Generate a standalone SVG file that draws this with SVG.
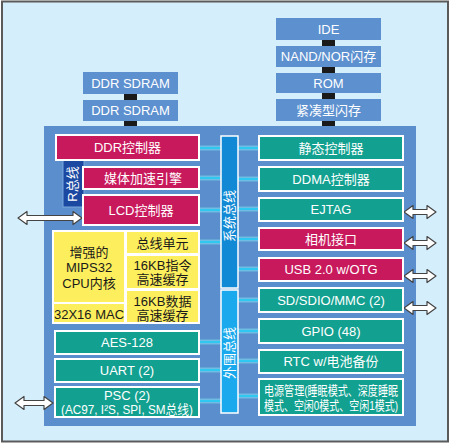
<svg xmlns="http://www.w3.org/2000/svg" width="450" height="444" viewBox="0 0 450 444">
<style>
text{font-family:"Liberation Sans","Noto Sans CJK SC",sans-serif;font-size:13px;text-anchor:middle;dominant-baseline:central}
.w{fill:#fff}
.k{fill:#1a1a1a}
.mem{fill:#5c90cf}
.mg{fill:#c8195c;stroke:#fff;stroke-width:2}
.tl{fill:#12a190;stroke:#fff;stroke-width:2}
.yl{fill:#fcee5c}
.lnk{fill:#1a1a1a}
.stub{stroke:#7fdcf6;stroke-width:5;opacity:.6}
.stub2{stroke:#2ec8f0;stroke-width:2}
.arr{fill:#fff;stroke:#444;stroke-width:1.2;stroke-linejoin:round}
</style>
<rect x="2" y="1.5" width="446" height="440" fill="#d5eefb" stroke="#5a5a5a" stroke-width="2"/>
<rect x="44" y="126" width="372" height="300" fill="#5a8ecc"/>

<g id="connectors">
  <rect class="lnk" x="124" y="94" width="13" height="6"/>
  <rect class="lnk" x="124" y="121" width="13" height="5"/>
  <rect class="lnk" x="322" y="40" width="13" height="6"/>
  <rect class="lnk" x="322" y="67" width="13" height="6"/>
  <rect class="lnk" x="322" y="93" width="13" height="6"/>
  <rect class="lnk" x="322" y="121" width="13" height="5"/>
  <g>
    <path class="stub" d="M199 148H221M199 178H221M199 210H221M199 242H221M199 342H221M199 370H221M199 401H221M238 148H259M238 179H259M238 209H259M238 239H259M238 269H259M238 300H259M238 331H259M238 361H259M238 396H259"/>
    <path class="stub2" d="M199 148H221M199 178H221M199 210H221M199 242H221M199 342H221M199 370H221M199 401H221M238 148H259M238 179H259M238 209H259M238 239H259M238 269H259M238 300H259M238 331H259M238 361H259M238 396H259"/>
  </g>
  <path class="arr" d="M18 218L27 211.5V215.5H73V211.5L82 218L73 224.5V220.5H27V224.5Z"/>
  <path class="arr" d="M15 403L24 396.5V400.5H44V396.5L53 403L44 409.5V405.5H24V409.5Z"/>
  <path class="arr" d="M404 212L413 205.5V209.5H427V205.5L436 212L427 218.5V214.5H413V218.5Z"/>
  <path class="arr" d="M404 243L413 236.5V240.5H427V236.5L436 243L427 249.5V245.5H413V249.5Z"/>
  <path class="arr" d="M404 276L413 269.5V273.5H427V269.5L436 276L427 282.5V278.5H413V282.5Z"/>
  <path class="arr" d="M404 308L413 301.5V305.5H427V301.5L436 308L427 314.5V310.5H413V314.5Z"/>
</g>

<g id="ddr-sdram-1"><rect class="mem" x="83" y="72" width="95" height="22"/><text class="w" x="130.5" y="83" font-size="13.5">DDR SDRAM</text></g>
<g id="ddr-sdram-2"><rect class="mem" x="83" y="100" width="95" height="21"/><text class="w" x="130.5" y="110.5" font-size="13.5">DDR SDRAM</text></g>
<g id="ide"><rect class="mem" x="276" y="18" width="105" height="22"/><text class="w" x="328.5" y="29">IDE</text></g>
<g id="nand"><rect class="mem" x="276" y="46" width="105" height="21"/><text class="w" x="328.5" y="56.5">NAND/NOR闪存</text></g>
<g id="rom"><rect class="mem" x="276" y="73" width="105" height="20"/><text class="w" x="328.5" y="83">ROM</text></g>
<g id="cf"><rect class="mem" x="276" y="99" width="105" height="22"/><text class="w" x="328.5" y="110">紧凑型闪存</text></g>

<g id="r-bus"><rect x="63" y="159" width="21" height="48" fill="#1b49a2" stroke="#7aa8dc" stroke-width="1"/><text class="w" transform="translate(72 184) rotate(-90)">R总线</text></g>
<g id="ddr-ctrl"><rect class="mg" x="56" y="135" width="143" height="25"/><text class="w" x="127.5" y="147.5">DDR控制器</text></g>
<g id="media"><rect class="mg" x="83" y="167" width="116" height="22"/><text class="w" x="143" y="178">媒体加速引擎</text></g>
<g id="lcd"><rect class="mg" x="83" y="195" width="116" height="30"/><text class="w" x="141" y="210">LCD控制器</text></g>

<g id="cpu">
  <rect x="52" y="230" width="148" height="94" fill="#fff"/>
  <rect class="yl" x="54" y="232" width="70" height="70"/>
  <rect class="yl" x="54" y="304" width="70" height="18"/>
  <rect class="yl" x="127" y="232" width="71" height="21"/>
  <rect class="yl" x="127" y="256" width="71" height="32"/>
  <rect class="yl" x="127" y="291" width="71" height="31"/>
  <text class="k" x="89" y="252" font-size="12.5">增强的</text>
  <text class="k" x="89" y="267.5" font-size="12.5">MIPS32</text>
  <text class="k" x="89" y="283" font-size="12.5">CPU内核</text>
  <text class="k" x="89" y="314" font-size="12.5">32X16 MAC</text>
  <text class="k" x="162.5" y="243" font-size="12.5">总线单元</text>
  <text class="k" x="162.5" y="265" font-size="12.5">16KB指令</text>
  <text class="k" x="162.5" y="279" font-size="12.5">高速缓存</text>
  <text class="k" x="162.5" y="301.5" font-size="12.5">16KB数据</text>
  <text class="k" x="162.5" y="315" font-size="12.5">高速缓存</text>
</g>

<g id="aes"><rect class="tl" x="55" y="331" width="144" height="23"/><text class="w" x="127" y="342.5">AES-128</text></g>
<g id="uart"><rect class="tl" x="55" y="359" width="144" height="23"/><text class="w" x="127" y="370.5">UART (2)</text></g>
<g id="psc"><rect class="tl" x="55" y="387" width="144" height="30"/><text class="w" x="127" y="395" font-size="11">PSC (2)</text><text class="w" x="127" y="409" font-size="11" textLength="132" lengthAdjust="spacingAndGlyphs">(AC97, I²S, SPI, SM总线)</text></g>

<g id="system-bus"><rect x="221" y="136" width="17" height="152" fill="#1289d5" stroke="#fff" stroke-width="1.5"/><text class="w" transform="translate(229.5 216) rotate(-90)">系统总线</text></g>
<g id="peripheral-bus"><rect x="221" y="290" width="17" height="123" fill="#19a9ec" stroke="#fff" stroke-width="1.5"/><text class="w" transform="translate(229.5 353) rotate(-90)">外围总线</text></g>

<g id="static-ctrl"><rect class="tl" x="259" y="136" width="144" height="24"/><text class="w" x="331" y="148">静态控制器</text></g>
<g id="ddma"><rect class="tl" x="259" y="167" width="144" height="24"/><text class="w" x="331" y="179">DDMA控制器</text></g>
<g id="ejtag"><rect class="tl" x="259" y="198" width="144" height="23"/><text class="w" x="331" y="209.5">EJTAG</text></g>
<g id="camera"><rect class="mg" x="259" y="228" width="144" height="22"/><text class="w" x="331" y="239">相机接口</text></g>
<g id="usb"><rect class="mg" x="259" y="258" width="144" height="23"/><text class="w" x="331" y="269.5">USB 2.0 w/OTG</text></g>
<g id="sd"><rect class="tl" x="259" y="288" width="144" height="24"/><text class="w" x="331" y="300">SD/SDIO/MMC (2)</text></g>
<g id="gpio"><rect class="tl" x="259" y="319" width="144" height="24"/><text class="w" x="331" y="331">GPIO (48)</text></g>
<g id="rtc"><rect class="tl" x="259" y="350" width="144" height="23"/><text class="w" x="331" y="361.5">RTC w/电池备份</text></g>
<g id="power"><rect class="tl" x="259" y="379" width="144" height="36"/><text class="w" x="331" y="390.5" font-size="10" textLength="134" lengthAdjust="spacingAndGlyphs">电源管理(睡眠模式、深度睡眠</text><text class="w" x="331" y="405" font-size="10" textLength="134" lengthAdjust="spacingAndGlyphs">模式、空闲0模式、空闲1模式)</text></g>
</svg>
